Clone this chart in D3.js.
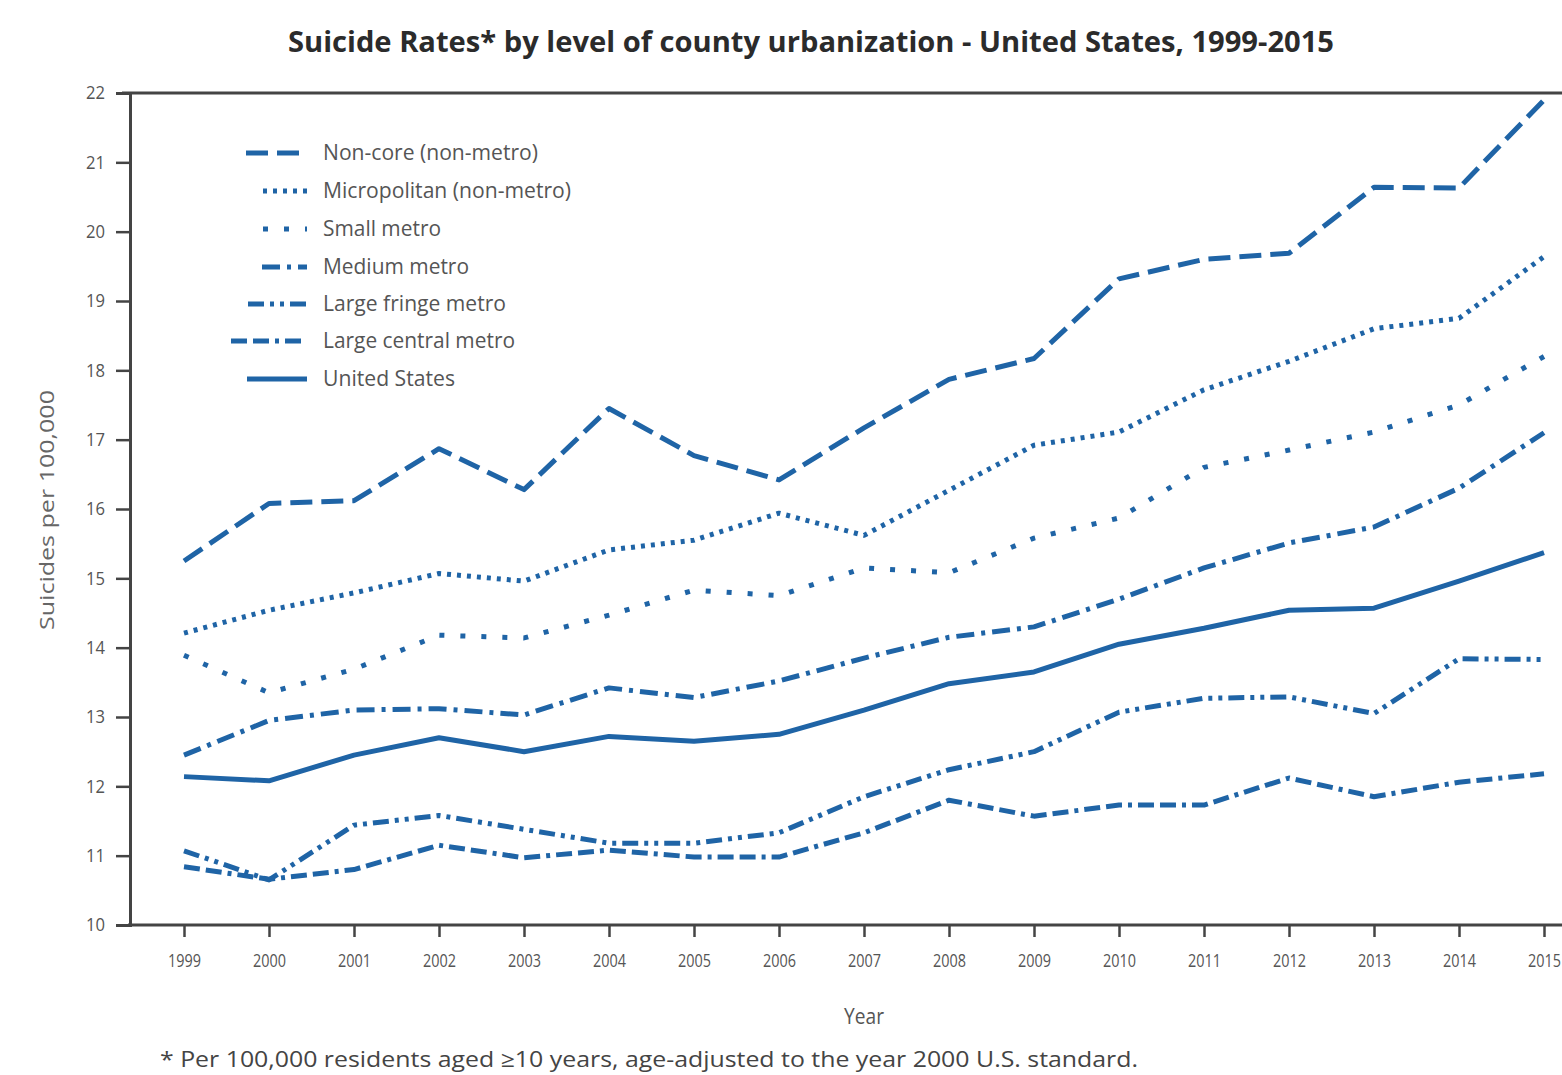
<!DOCTYPE html>
<html>
<head>
<meta charset="utf-8">
<script src="https://cdn.jsdelivr.net/npm/d3@7"></script>
<style>
  html, body { margin: 0; padding: 0; background: #fff; }
  svg { display: block; }
  text { font-family: "Open Sans", "Noto Sans", sans-serif; }
</style>
</head>
<body>
<svg id="chart" width="1562" height="1075"></svg>
<script>
// ---- data ----
const years = [1999,2000,2001,2002,2003,2004,2005,2006,2007,2008,2009,2010,2011,2012,2013,2014,2015];
const yTicks = [10,11,12,13,14,15,16,17,18,19,20,21,22];
const seriesNames = ["Non-core (non-metro)","Micropolitan (non-metro)","Small metro","Medium metro","Large fringe metro","Large central metro","United States"];
const nonCore      = [15.25,16.08,16.12,16.87,16.28,17.45,16.77,16.42,17.17,17.87,18.17,19.32,19.6,19.69,20.64,20.63,21.9];
const micropolitan = [14.21,14.54,14.79,15.07,14.96,15.41,15.55,15.94,15.62,16.27,16.92,17.11,17.72,18.13,18.6,18.75,19.64];
const smallMetro   = [13.89,13.35,13.69,14.18,14.14,14.47,14.83,14.75,15.15,15.08,15.58,15.87,16.6,16.85,17.11,17.5,18.2];
const mediumMetro  = [12.45,12.95,13.1,13.12,13.03,13.42,13.28,13.52,13.85,14.15,14.3,14.7,15.15,15.51,15.74,16.3,17.1];
const largeFringe  = [11.07,10.65,11.44,11.58,11.38,11.18,11.18,11.33,11.85,12.24,12.5,13.07,13.27,13.29,13.05,13.84,13.83];
const largeCentral = [10.84,10.66,10.8,11.15,10.97,11.08,10.98,10.98,11.33,11.8,11.57,11.73,11.73,12.12,11.85,12.06,12.18];
const unitedStates = [12.14,12.08,12.45,12.7,12.5,12.72,12.65,12.75,13.1,13.48,13.65,14.05,14.28,14.54,14.57,14.96,15.37];

const title = "Suicide Rates* by level of county urbanization - United States, 1999-2015";
const yLabel = "Suicides per 100,000";
const xLabel = "Year";
const footnote = "* Per 100,000 residents aged \u226510 years, age-adjusted to the year 2000 U.S. standard.";

// ---- styles (not data) ----
const seriesValues = [nonCore, micropolitan, smallMetro, mediumMetro, largeFringe, largeCentral, unitedStates];
const dashes = ["22,9", "4,6", "5,16", "18,7,4,7", "16,6,4,6,4,6", "16,6,16,6,4,6", null];
const legendStart = [246, 263, 263, 262, 248, 231, 247];
const lineColor = "#1f64a6";

const svg = d3.select("#chart");
const x = d3.scaleLinear().domain([1999, 2015]).range([184, 1544]);
const y = d3.scaleLinear().domain([10, 22]).range([925, 93]);

// title
svg.append("text").attr("x", 288).attr("y", 52)
  .attr("textLength", 1046).attr("lengthAdjust", "spacingAndGlyphs")
  .style("font-size", "28px").style("font-weight", "bold").style("fill", "#2b2b2b")
  .text(title);

// lines
const line = d3.line().x((d, i) => x(years[i])).y(d => y(d));
seriesValues.forEach((vals, k) => {
  svg.append("path").datum(vals)
    .attr("d", line)
    .attr("fill", "none")
    .attr("stroke", lineColor)
    .attr("stroke-width", 5)
    .attr("stroke-linejoin", "round")
    .attr("stroke-dasharray", dashes[k]);
});

// frame: top line
svg.append("line").attr("x1", 122).attr("x2", 1562).attr("y1", y(22)).attr("y2", y(22))
  .attr("stroke", "#444").attr("stroke-width", 3);

// y axis
const yAxis = d3.axisLeft(y).tickValues(yTicks).tickSize(14).tickPadding(10).tickFormat(d3.format("d"));
const gy = svg.append("g").attr("transform", "translate(130,0)").call(yAxis);
gy.attr("font-size", null);
gy.select(".domain").attr("stroke", "#444").attr("stroke-width", 3);
gy.selectAll(".tick line").attr("stroke", "#444").attr("stroke-width", 2.5);
gy.selectAll(".tick text").attr("x", -25)
  .attr("textLength", 19).attr("lengthAdjust", "spacingAndGlyphs")
  .style("font-size", "18px").style("fill", "#555");

// x axis
const xAxis = d3.axisBottom(x).tickValues(years).tickSize(12).tickPadding(17).tickFormat(d3.format("d"));
const gx = svg.append("g").attr("transform", "translate(0,925)").call(xAxis);
gx.attr("font-size", null);
gx.select(".domain").attr("d", "M128,0H1562").attr("stroke", "#444").attr("stroke-width", 3);
gx.selectAll(".tick line").attr("stroke", "#444").attr("stroke-width", 2.5);
gx.selectAll(".tick text").style("font-size", "19px").style("fill", "#555")
  .attr("textLength", 33).attr("lengthAdjust", "spacingAndGlyphs");

// axis titles
svg.append("text").attr("transform", "translate(54,510) rotate(-90)")
  .attr("text-anchor", "middle").attr("textLength", 240).attr("lengthAdjust", "spacingAndGlyphs")
  .style("font-size", "20px").style("fill", "#666").text(yLabel);
svg.append("text").attr("x", 864).attr("y", 1024).attr("text-anchor", "middle")
  .attr("textLength", 40).attr("lengthAdjust", "spacingAndGlyphs")
  .style("font-size", "21px").style("fill", "#555").text(xLabel);

// footnote
svg.append("text").attr("x", 160).attr("y", 1067)
  .attr("textLength", 978).attr("lengthAdjust", "spacingAndGlyphs")
  .style("font-size", "22px").style("fill", "#444").text(footnote);

// legend
const legendY = [153, 191, 229, 267, 304, 341, 379];
const legendTextW = [215, 248, 118, 146, 183, 192, 132];
const lg = svg.append("g");
seriesNames.forEach((name, k) => {
  lg.append("line").attr("x1", legendStart[k]).attr("x2", 307)
    .attr("y1", legendY[k]).attr("y2", legendY[k])
    .attr("stroke", lineColor).attr("stroke-width", 5)
    .attr("stroke-dasharray", dashes[k]);
  lg.append("text").attr("x", 323).attr("y", legendY[k] + 7)
    .attr("textLength", legendTextW[k]).attr("lengthAdjust", "spacingAndGlyphs")
    .style("font-size", "21px").style("fill", "#555").text(name);
});
</script>
</body>
</html>
